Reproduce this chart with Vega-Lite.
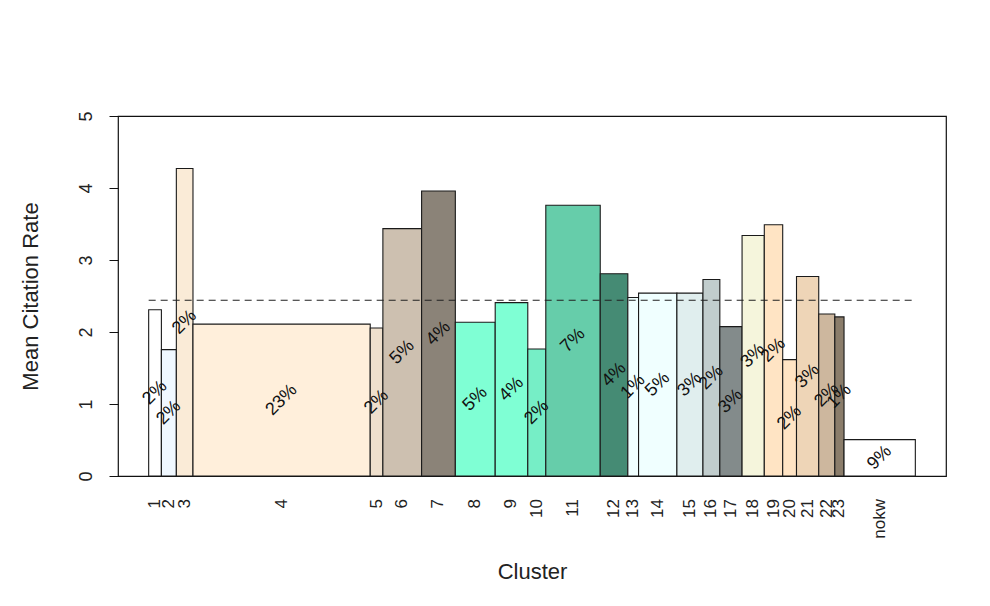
{
  "$schema": "https://vega.github.io/schema/vega-lite/v6.json",
  "width": 828,
  "height": 360,
  "autosize": {"type": "none"},
  "padding": {"left": 118, "top": 116, "right": 44, "bottom": 130},
  "background": "white",
  "config": {
    "font": "Liberation Sans",
    "view": {"stroke": "#111111", "strokeWidth": 1.2},
    "axisX": {"labels": false, "ticks": false, "domain": false, "grid": false, "titleFontSize": 22, "titleFontWeight": "normal", "titleColor": "#222222", "titleY": 95, "titleBaseline": "middle"},
    "axisY": {"domain": false, "grid": false, "tickSize": 9, "tickColor": "#111111", "labelFontSize": 18, "labelColor": "#222222", "labelAngle": -90, "labelAlign": "center", "labelBaseline": "bottom", "labelPadding": 14, "titleFontSize": 22, "titleFontWeight": "normal", "titleColor": "#222222", "titleX": -88, "titleY": 180, "titleAngle": -90, "titleAlign": "center", "titleBaseline": "middle"}
  },
  "datasets": {
    "bars": [
      {"cluster": "1", "x0": 0, "x1": 1.66, "rate": 2.31, "pct": "2%"},
      {"cluster": "2", "x0": 1.66, "x1": 3.61, "rate": 1.755, "pct": "2%"},
      {"cluster": "3", "x0": 3.61, "x1": 5.78, "rate": 4.27, "pct": "2%"},
      {"cluster": "4", "x0": 5.78, "x1": 28.9, "rate": 2.11, "pct": "23%"},
      {"cluster": "5", "x0": 28.9, "x1": 30.55, "rate": 2.056, "pct": "2%"},
      {"cluster": "6", "x0": 30.55, "x1": 35.6, "rate": 3.436, "pct": "5%"},
      {"cluster": "7", "x0": 35.6, "x1": 40.0, "rate": 3.958, "pct": "4%"},
      {"cluster": "8", "x0": 40.0, "x1": 45.2, "rate": 2.135, "pct": "5%"},
      {"cluster": "9", "x0": 45.2, "x1": 49.45, "rate": 2.408, "pct": "4%"},
      {"cluster": "10", "x0": 49.45, "x1": 51.8, "rate": 1.764, "pct": "2%"},
      {"cluster": "11", "x0": 51.8, "x1": 58.9, "rate": 3.76, "pct": "7%"},
      {"cluster": "12", "x0": 58.9, "x1": 62.5, "rate": 2.81, "pct": "4%"},
      {"cluster": "13", "x0": 62.5, "x1": 63.9, "rate": 2.48, "pct": "1%"},
      {"cluster": "14", "x0": 63.9, "x1": 68.9, "rate": 2.54, "pct": "5%"},
      {"cluster": "15", "x0": 68.9, "x1": 72.3, "rate": 2.54, "pct": "3%"},
      {"cluster": "16", "x0": 72.3, "x1": 74.5, "rate": 2.73, "pct": "2%"},
      {"cluster": "17", "x0": 74.5, "x1": 77.4, "rate": 2.075, "pct": "3%"},
      {"cluster": "18", "x0": 77.4, "x1": 80.3, "rate": 3.34, "pct": "3%"},
      {"cluster": "19", "x0": 80.3, "x1": 82.7, "rate": 3.49, "pct": "2%"},
      {"cluster": "20", "x0": 82.7, "x1": 84.5, "rate": 1.617, "pct": "2%"},
      {"cluster": "21", "x0": 84.5, "x1": 87.4, "rate": 2.77, "pct": "3%"},
      {"cluster": "22", "x0": 87.4, "x1": 89.5, "rate": 2.25, "pct": "2%"},
      {"cluster": "23", "x0": 89.5, "x1": 90.7, "rate": 2.21, "pct": "1%"},
      {"cluster": "nokw", "x0": 90.7, "x1": 100, "rate": 0.505, "pct": "9%"}
    ],
    "overall": [{"mean": 2.44, "from": 0, "to": 99.6}]
  },
  "layer": [
    {
      "data": {"name": "bars"},
      "mark": {"type": "rect", "stroke": "#1a1a1a", "strokeWidth": 1.1},
      "encoding": {
        "x": {"field": "x0", "type": "quantitative", "scale": {"domain": [-4, 104], "nice": false, "zero": false}, "title": "Cluster"},
        "x2": {"field": "x1"},
        "y": {"field": "rate", "type": "quantitative", "scale": {"domain": [0, 5], "nice": false}, "title": "Mean Citation Rate", "axis": {"values": [0, 1, 2, 3, 4, 5], "format": "d", "labelFontSize": 18}},
        "y2": {"datum": 0},
        "fill": {
          "field": "cluster", "type": "nominal", "legend": null,
          "scale": {
            "domain": ["1","2","3","4","5","6","7","8","9","10","11","12","13","14","15","16","17","18","19","20","21","22","23","nokw"],
            "range": ["#FFFFFF","#F0F8FF","#FAEBD7","#FFEFDB","#EEDFCC","#CDC0B0","#8B8378","#7FFFD4","#7FFFD4","#76EEC6","#66CDAA","#458B74","#F0FFFF","#F0FFFF","#E0EEEE","#C1CDCD","#838B8B","#F5F5DC","#FFE4C4","#FFE4C4","#EED5B7","#CDB79E","#8B7D6B","#FFFFFF"]
          }
        }
      }
    },
    {
      "data": {"name": "overall"},
      "mark": {"type": "rule", "stroke": "#222222", "strokeWidth": 1.1, "strokeDash": [7, 5]},
      "encoding": {
        "x": {"field": "from", "type": "quantitative", "title": "Cluster"},
        "x2": {"field": "to"},
        "y": {"field": "mean", "type": "quantitative", "title": "Mean Citation Rate"}
      }
    },
    {
      "data": {"name": "bars"},
      "transform": [
        {"fold": ["x0", "x1"], "as": ["edge", "pos"]},
        {"aggregate": [{"op": "mean", "field": "pos", "as": "mid"}], "groupby": ["cluster", "pct", "rate"]}
      ],
      "mark": {"type": "text", "angle": -45, "fontSize": 18, "align": "center", "baseline": "middle", "color": "#111111"},
      "encoding": {
        "x": {"field": "mid", "type": "quantitative", "title": "Cluster"},
        "y": {"field": "rate", "type": "quantitative", "stack": "zero", "bandPosition": 0.5, "title": "Mean Citation Rate"},
        "detail": {"field": "cluster"},
        "text": {"field": "pct"}
      }
    },
    {
      "data": {"name": "bars"},
      "transform": [
        {"fold": ["x0", "x1"], "as": ["edge", "pos"]},
        {"aggregate": [{"op": "mean", "field": "pos", "as": "mid"}], "groupby": ["cluster"]}
      ],
      "mark": {"type": "text", "angle": -90, "fontSize": 17, "align": "right", "baseline": "middle", "dx": -23, "color": "#222222"},
      "encoding": {
        "x": {"field": "mid", "type": "quantitative", "title": "Cluster"},
        "y": {"datum": 0, "type": "quantitative"},
        "text": {"field": "cluster"}
      }
    }
  ]
}
